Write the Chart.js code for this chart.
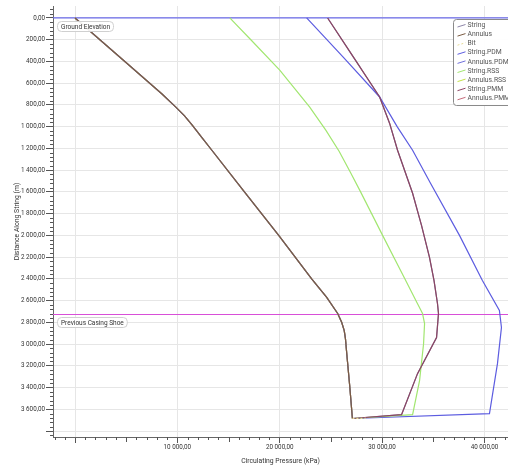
<!DOCTYPE html>
<html>
<head>
<meta charset="utf-8">
<script src="https://cdn.jsdelivr.net/npm/chart.js@4.4.0/dist/chart.umd.min.js"></script>
<style>
  html, body { margin: 0; padding: 0; background: #fff; }
  #wrap { width: 508px; height: 465px; position: relative; }
</style>
</head>
<body>
<div id="wrap"><canvas id="myChart"></canvas></div>
<script>
'use strict';
// annulus pressure, same for every tool
let annulusDepth = [0, 200, 410, 700, 820, 900, 986, 1100, 1217, 1600, 2000, 2400, 2571, 2719, 2800, 2876, 2950, 3100, 3400, 3685];
let annulusPressure = [0, 2430, 4980, 8500, 9850, 10700, 11450, 12400, 13370, 16550, 19900, 23120, 24590, 25660, 26050, 26300, 26420, 26560, 26850, 27100];

let rssDepth = [0, 203, 479, 820, 1032, 1226, 1420, 1600, 2000, 2400, 2627, 2719, 2811, 3000, 3336, 3650, 3685];
let rssPressure = [15120, 17200, 20000, 22930, 24500, 25800, 26900, 27900, 30050, 32220, 33450, 33950, 34150, 34050, 33660, 32980, 27100];

let pdmDepth = [0, 360, 727, 1000, 1217, 1521, 2000, 2415, 2691, 2848, 3180, 3640, 3685];
let pdmPressure = [22630, 26200, 29760, 31470, 32980, 34730, 37560, 39800, 41460, 41660, 41270, 40490, 27100];

let pmmDepth = [0, 360, 727, 968, 1217, 1613, 1908, 2203, 2415, 2627, 2719, 2940, 3272, 3650, 3685];
let pmmPressure = [24680, 27200, 29760, 30730, 31510, 32980, 33850, 34630, 35070, 35410, 35510, 35320, 33460, 31900, 27100];

let bitDepth = [3685, 3682];
let bitPressure = [27100, 28400];

let groundDepth = 0;
let casingDepth = 2728;

let xTicks = [0, 10000, 20000, 30000, 40000];
let yTicks = [0, 200, 400, 600, 800, 1000, 1200, 1400, 1600, 1800, 2000, 2200, 2400, 2600, 2800, 3000, 3200, 3400, 3600, 3800];

let xMin = -2150;
let xMax = 42300;

function points(xs, ys) {
    let out = [];
    for (let i = 0; i < xs.length; i++) {
        out.push({x: xs[i], y: ys[i]});
    }
    return out;
}

function fmt(v) {
    let parts = Math.abs(v).toFixed(2).split('.');
    let whole = parts[0].replace(/\B(?=(\d{3})+(?!\d))/g, ' ');
    return (v < 0 ? '-' : '') + whole + ',' + parts[1];
}

function line(label, color, data, order, extra) {
    let ds = {
        label: label,
        data: data,
        borderColor: color,
        backgroundColor: color,
        borderWidth: 1.2,
        showLine: true,
        pointRadius: 0,
        tension: 0,
        fill: false,
        order: order
    };
    return Object.assign(ds, extra || {});
}

let datasets = [
    line('String', '#8c84a6', points(pmmPressure, pmmDepth), 8),
    line('Annulus', '#7a5b42', points(annulusPressure, annulusDepth), 1),
    line('Bit', '#e6da96', points(bitPressure, bitDepth), 0, {borderDash: [2, 2]}),
    line('String.PDM', '#5c5ce0', points(pdmPressure, pdmDepth), 5),
    line('Annulus.PDM', '#7070dc', points(annulusPressure, annulusDepth), 9),
    line('String.RSS', '#a2e670', points(rssPressure, rssDepth), 4),
    line('Annulus.RSS', '#c2e04a', points(annulusPressure, annulusDepth), 9),
    line('String.PMM', '#8b4563', points(pmmPressure, pmmDepth), 3),
    line('Annulus.PMM', '#c46a7a', points(annulusPressure, annulusDepth), 9),
    line('Ground Elevation', '#6b6bea', points([xMin, xMax], [groundDepth, groundDepth]), 12, {legendHide: true}),
    line('Previous Casing Shoe', '#d84fd8', points([xMin, xMax], [casingDepth, casingDepth]), 12, {legendHide: true})
];

const smallFamily = "Roboto, 'Liberation Sans', sans-serif";

// small ticks, marker labels and the legend box
const extras = {
    id: 'extras',
    afterDraw(chart) {
        let ctx = chart.ctx;
        let xs = chart.scales.x;
        let ys = chart.scales.y;
        let area = chart.chartArea;
        ctx.save();
        ctx.strokeStyle = '#555';
        ctx.lineWidth = 1;
        ctx.beginPath();
        for (let d = -80; d <= 3840; d += 40) {
            if (d % 200 === 0 && d >= 0) continue;
            let py = Math.round(ys.getPixelForValue(d)) + 0.5;
            ctx.moveTo(area.left - 3, py);
            ctx.lineTo(area.left, py);
        }
        for (let p = -2000; p <= 42000; p += 1000) {
            if (p % 10000 === 0) continue;
            let px = Math.round(xs.getPixelForValue(p)) + 0.5;
            let len = (p % 5000 === 0) ? 5 : 3;
            ctx.moveTo(px, area.bottom);
            ctx.lineTo(px, area.bottom + len);
        }
        ctx.stroke();

        // marker labels
        ctx.font = '6.5px ' + smallFamily;
        ctx.textBaseline = 'middle';
        let marks = [['Ground Elevation', groundDepth], ['Previous Casing Shoe', casingDepth]];
        for (let m of marks) {
            let py = ys.getPixelForValue(m[1]);
            let w = ctx.measureText(m[0]).width + 7;
            let bx = area.left + 4.5;
            let by = Math.round(py) + 3.5;
            ctx.beginPath();
            ctx.roundRect(bx, by, w, 10, 4);
            ctx.fillStyle = 'rgba(255,255,255,0.9)';
            ctx.fill();
            ctx.strokeStyle = '#d0d0d0';
            ctx.stroke();
            ctx.fillStyle = '#333';
            ctx.fillText(m[0], bx + 3.5, by + 5.5);
        }

        // legend
        let lx = 453.5, ly = 19.5;
        ctx.beginPath();
        ctx.roundRect(lx, ly, 62, 86, 3);
        ctx.fillStyle = 'rgba(255,255,255,0.95)';
        ctx.fill();
        ctx.strokeStyle = '#8a8a8a';
        ctx.stroke();
        ctx.font = '6.8px ' + smallFamily;
        let row = 0;
        for (let ds of chart.data.datasets) {
            if (ds.legendHide) continue;
            let cy = 25.5 + row * 9.1;
            ctx.beginPath();
            ctx.setLineDash(ds.borderDash || []);
            ctx.strokeStyle = ds.borderColor;
            ctx.lineWidth = 1;
            ctx.moveTo(lx + 4, cy + 1.5);
            ctx.lineTo(lx + 12, cy - 1);
            ctx.stroke();
            ctx.setLineDash([]);
            ctx.fillStyle = '#555';
            ctx.fillText(ds.label, lx + 14, cy);
            row++;
        }
        ctx.restore();
    }
};

let ctx = document.getElementById('myChart').getContext('2d');
let chart = new Chart(ctx, {
    type: 'scatter',
    data: {datasets: datasets},
    options: {
        responsive: true,
        maintainAspectRatio: false,
        animation: false,
        layout: {padding: {top: 6, right: 0, left: 0, bottom: 0}},
        plugins: {
            legend: {display: false},
            tooltip: {enabled: false}
        },
        scales: {
            x: {
                type: 'linear',
                min: xMin,
                max: xMax,
                afterBuildTicks: function (scale) {
                    scale.ticks = xTicks.map(v => ({value: v}));
                },
                afterFit: function (scale) { scale.height = 28; },
                ticks: {
                    color: '#333',
                    font: {family: smallFamily, size: 6.3},
                    padding: 1,
                    maxRotation: 0,
                    callback: function (v) { return v === 0 ? '' : fmt(v); }
                },
                grid: {color: '#e6e6e6', tickColor: '#555', tickLength: 6},
                border: {color: '#666', width: 1},
                title: {
                    display: true,
                    text: 'Circulating Pressure (kPa)',
                    color: '#333',
                    font: {family: smallFamily, size: 6.8},
                    padding: {top: 0, bottom: 0}
                }
            },
            y: {
                type: 'linear',
                reverse: true,
                min: -110,
                max: 3855,
                afterBuildTicks: function (scale) {
                    scale.ticks = yTicks.map(v => ({value: v}));
                },
                afterFit: function (scale) { scale.width = 53; },
                ticks: {
                    color: '#333',
                    font: {family: smallFamily, size: 6.3},
                    padding: 1,
                    callback: function (v) { return v === 3800 ? '' : fmt(v); }
                },
                grid: {color: '#e6e6e6', tickColor: '#555', tickLength: 7},
                border: {color: '#666', width: 1},
                title: {
                    display: true,
                    text: 'Distance Along String (m)',
                    color: '#333',
                    font: {family: smallFamily, size: 6.8},
                    padding: {top: 13, bottom: 0}
                }
            }
        }
    },
    plugins: [extras]
});
</script>
</body>
</html>
